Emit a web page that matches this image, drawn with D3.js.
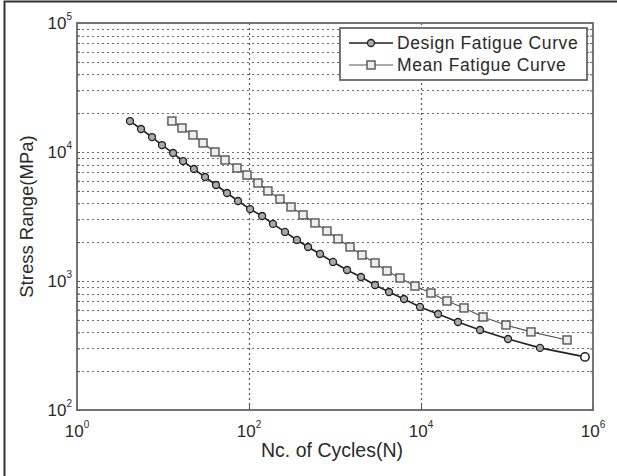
<!DOCTYPE html>
<html>
<head>
<meta charset="utf-8">
<script src="https://cdn.jsdelivr.net/npm/d3@7"></script>
<style>
  body { margin: 0; background: #fff; }
  text { font-family: "Liberation Sans", Arial, sans-serif; fill: #2a2a2a; }
</style>
</head>
<body>
<div id="chart"></div>
<script>
// design fatigue curve
var designN = [4.13, 5.55, 7.45, 9.73, 13.1, 17.1, 22.9, 30.8, 41.3, 55.5, 74.5, 103, 142, 190, 262, 361, 486, 670, 948,
  1380, 2005, 2920, 4245, 6340, 9730, 15780, 26900, 48500, 102800, 242000, 807000];
var designS = [17380, 15070, 13060, 11320, 9820, 8510, 7380, 6400, 5550, 4810, 4170, 3610, 3190, 2770, 2400, 2080, 1835,
  1620, 1405, 1217, 1074, 931, 822, 725, 629, 555, 481, 417, 355, 303, 258];
// mean fatigue curve
var meanN = [12.7, 16.6, 22.3, 29.2, 40.2, 52.6, 72.5, 94.8, 127, 166, 229, 308, 425, 585, 807, 1084, 1494, 2060, 2920,
  4025, 5700, 8510, 13060, 20050, 31600, 52600, 97300, 190000, 499000];
var meanS = [17380, 15350, 13550, 11750, 10000, 8670, 7520, 6630, 5750, 4990, 4320, 3750, 3250, 2820, 2440, 2120, 1835,
  1590, 1380, 1197, 1055, 914, 807, 700, 618, 526, 456, 403, 349];
var xTicks = [1, 1e2, 1e4, 1e6];
var yTicks = [1e2, 1e3, 1e4, 1e5];
var legendNames = ["Design Fatigue Curve", "Mean Fatigue Curve"];

var width = 617, height = 476,
    margin = { top: 23, right: 24, bottom: 66, left: 77 };

var svg = d3.select("#chart").append("svg")
    .attr("width", width)
    .attr("height", height);

var x = d3.scaleLog().domain([1, 1e6]).range([margin.left, width - margin.right]);
var y = d3.scaleLog().domain([1e2, 1e5]).range([height - margin.bottom, margin.top]);

// picture frame (top and left only)
svg.append("path")
    .attr("d", "M4.5," + height + "V1.5H" + width)
    .attr("fill", "none")
    .attr("stroke", "#333")
    .attr("stroke-width", 2);

// horizontal grid, every minor decade step
var yGrid = [];
for (var k = 2; k < 5; k++) for (var m = 1; m < 10; m++) yGrid.push(m * Math.pow(10, k));
yGrid = yGrid.filter(function (v) { return v > 1e2 && v < 1e5; });

svg.append("g").selectAll("line")
    .data(yGrid)
    .enter().append("line")
    .attr("x1", x(1)).attr("x2", x(1e6))
    .attr("y1", function (d) { return Math.round(y(d)) + 0.5; })
    .attr("y2", function (d) { return Math.round(y(d)) + 0.5; })
    .attr("stroke", "#6a6a6a")
    .attr("stroke-width", 1.2)
    .attr("stroke-dasharray", "2,3");

// vertical grid only at labelled decades
svg.append("g").selectAll("line")
    .data([1e2, 1e4])
    .enter().append("line")
    .attr("x1", function (d) { return Math.round(x(d)) + 0.5; })
    .attr("x2", function (d) { return Math.round(x(d)) + 0.5; })
    .attr("y1", y(1e5)).attr("y2", y(1e2))
    .attr("stroke", "#555")
    .attr("stroke-width", 1.2)
    .attr("stroke-dasharray", "2,3");

// axes with inward ticks
var gx = svg.append("g")
    .attr("transform", "translate(0," + y(1e2) + ")")
    .call(d3.axisBottom(x).tickValues(xTicks).tickSize(-5).tickFormat(""));
var gy = svg.append("g")
    .attr("transform", "translate(" + x(1) + ",0)")
    .call(d3.axisLeft(y).tickValues(yGrid.concat(yTicks)).tickSize(-3).tickFormat(""));
var gy2 = svg.append("g")
    .attr("transform", "translate(" + x(1e6) + ",0)")
    .call(d3.axisRight(y).tickValues(yGrid.concat(yTicks)).tickSize(-3).tickFormat(""));
[gx, gy, gy2].forEach(function (g) {
  g.select(".domain").remove();
  g.selectAll("line").attr("stroke", "#555");
});

// plot box
svg.append("rect")
    .attr("x", x(1)).attr("y", y(1e5))
    .attr("width", x(1e6) - x(1))
    .attr("height", y(1e2) - y(1e5))
    .attr("fill", "none")
    .attr("stroke", "#666")
    .attr("stroke-width", 1.8);

// tick labels like 10^k
function expLabel(sel, px, py, anchor, v) {
  var t = sel.append("text")
      .attr("x", px).attr("y", py)
      .attr("text-anchor", anchor)
      .attr("font-size", 17);
  t.append("tspan").text("10");
  t.append("tspan").attr("dy", -9).attr("font-size", 10).text(Math.round(Math.log10(v)));
}
xTicks.forEach(function (v) { expLabel(svg, x(v), y(1e2) + 27, "middle", v); });
yTicks.forEach(function (v) { expLabel(svg, x(1) - 5, y(v) + 6, "end", v); });

// axis titles
svg.append("text")
    .attr("x", 332)
    .attr("y", 457)
    .attr("text-anchor", "middle")
    .attr("font-size", 19.5)
    .text("Nc. of Cycles(N)");
svg.append("text")
    .attr("transform", "translate(33," + ((y(1e5) + y(1e2)) / 2) + ") rotate(-90)")
    .attr("text-anchor", "middle")
    .attr("font-size", 18.5)
    .text("Stress Range(MPa)");

var line = d3.line()
    .x(function (d) { return x(d[0]); })
    .y(function (d) { return y(d[1]); });

var design = d3.zip(designN, designS);
var mean = d3.zip(meanN, meanS);

// mean curve: thin gray line with square markers
svg.append("path")
    .datum(mean)
    .attr("d", line)
    .attr("fill", "none")
    .attr("stroke", "#555")
    .attr("stroke-width", 1.2);
svg.append("g").selectAll("rect")
    .data(mean)
    .enter().append("rect")
    .attr("x", function (d) { return x(d[0]) - 4; })
    .attr("y", function (d) { return y(d[1]) - 4; })
    .attr("width", 8).attr("height", 8)
    .attr("fill", "#eee")
    .attr("stroke", "#555")
    .attr("stroke-width", 1.4);

// design curve: dark line with circle markers
svg.append("path")
    .datum(design)
    .attr("d", line)
    .attr("fill", "none")
    .attr("stroke", "#222")
    .attr("stroke-width", 1.6);
svg.append("g").selectAll("circle")
    .data(design)
    .enter().append("circle")
    .attr("cx", function (d) { return x(d[0]); })
    .attr("cy", function (d) { return y(d[1]); })
    .attr("r", 3.5)
    .attr("fill", "#aaa")
    .attr("stroke", "#222")
    .attr("stroke-width", 1.3);
// last design marker is hollow in the picture
svg.append("circle")
    .attr("cx", x(designN[designN.length - 1]))
    .attr("cy", y(designS[designS.length - 1]))
    .attr("r", 4.2)
    .attr("fill", "#fff")
    .attr("stroke", "#222")
    .attr("stroke-width", 1.5);

// legend
var lg = svg.append("g").attr("transform", "translate(340,28)");
lg.append("rect")
    .attr("width", 247).attr("height", 52)
    .attr("fill", "#fff")
    .attr("stroke", "#666")
    .attr("stroke-width", 1.8);
legendNames.forEach(function (name, i) {
  var ly = 15 + i * 22;
  lg.append("line")
      .attr("x1", 9).attr("x2", 53)
      .attr("y1", ly).attr("y2", ly)
      .attr("stroke", i ? "#555" : "#222")
      .attr("stroke-width", i ? 1.2 : 1.6);
  if (i) {
    lg.append("rect").attr("x", 27).attr("y", ly - 4).attr("width", 8).attr("height", 8)
        .attr("fill", "#eee").attr("stroke", "#555").attr("stroke-width", 1.4);
  } else {
    lg.append("circle").attr("cx", 31).attr("cy", ly).attr("r", 3.5)
        .attr("fill", "#aaa").attr("stroke", "#222").attr("stroke-width", 1.3);
  }
  lg.append("text")
      .attr("x", 57).attr("y", ly + 6)
      .attr("font-size", 17.5)
      .attr("letter-spacing", 0.6)
      .text(name);
});
</script>
</body>
</html>
